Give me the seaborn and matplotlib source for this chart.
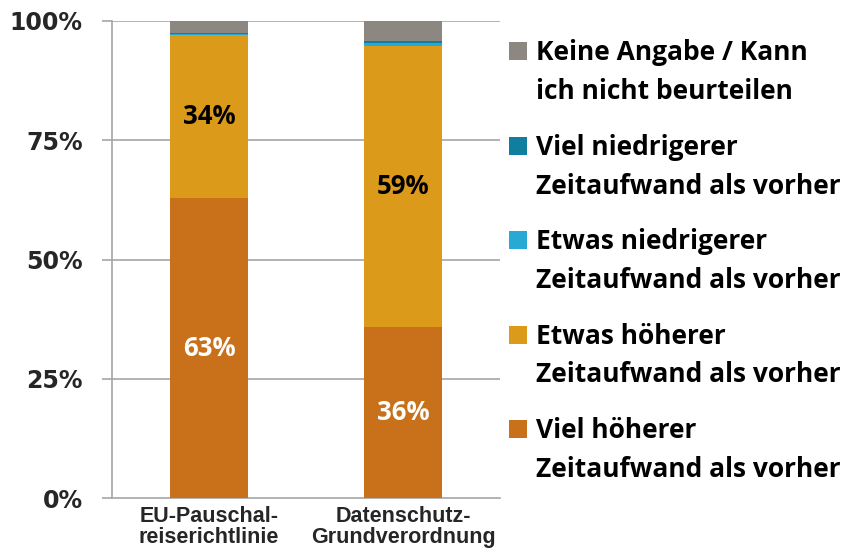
import matplotlib
matplotlib.use("Agg")
import matplotlib.pyplot as plt
import seaborn as sns
import pandas as pd
import numpy as np
from matplotlib.patches import Rectangle

# ---- data ----
categories = ["EU-Pauschal-\nreiserichtlinie", "Datenschutz-\nGrundverordnung"]
series_names = [
    "Viel höherer\nZeitaufwand als vorher",
    "Etwas höherer\nZeitaufwand als vorher",
    "Etwas niedrigerer\nZeitaufwand als vorher",
    "Viel niedrigerer\nZeitaufwand als vorher",
    "Keine Angabe / Kann\nich nicht beurteilen",
]
viel_hoeher = [62.8, 35.8]
etwas_hoeher = [34.3, 59.0]
etwas_niedriger = [0.1, 0.5]
viel_niedriger = [0.3, 0.5]
keine_angabe = [2.5, 4.2]
colors = ["#C8701A", "#DC9A1A", "#27A9D6", "#0F7E9F", "#8C8780"]
yticks = [0, 25, 50, 75, 100]
ytick_labels = ["0%", "25%", "50%", "75%", "100%"]

series_values = [viel_hoeher, etwas_hoeher, etwas_niedriger, viel_niedriger, keine_angabe]

W, H = 845, 553
fig = plt.figure(figsize=(W / 100, H / 100), dpi=100)
sns.set_style("white")
ax = fig.add_axes([112 / W, 1 - 498 / H, (500 - 112) / W, (498 - 21) / H])

cum = np.cumsum(np.array(series_values), axis=0)
# draw cumulative totals, largest first, so smaller stacks overlay
for k in range(len(series_values) - 1, -1, -1):
    df = pd.DataFrame({"cat": categories, "val": cum[k]})
    sns.barplot(data=df, x="cat", y="val", color=colors[k], width=0.4,
                linewidth=0, saturation=1, ax=ax, zorder=3, errorbar=None)

ax.set_xlim(-0.5, 1.5)
ax.set_ylim(0, 100)
ax.set_xlabel("")
ax.set_ylabel("")

grid_c = "#A5A5A5"
for y in yticks[1:]:
    ax.axhline(y, color=grid_c, lw=1.2, zorder=1)
for s in ["top", "right"]:
    ax.spines[s].set_visible(False)
ax.spines["left"].set_color(grid_c)
ax.spines["left"].set_linewidth(1.2)
ax.spines["bottom"].set_color(grid_c)
ax.spines["bottom"].set_linewidth(1.2)

ax.set_yticks(yticks)
ax.set_yticklabels(ytick_labels, fontfamily="DejaVu Sans", fontweight="bold", fontsize=17)
ax.tick_params(axis="y", length=7.2, width=1.2, color=grid_c, pad=14, left=True)
ax.tick_params(axis="x", length=0, pad=6)
ax.set_xticks([0, 1])
ax.set_xticklabels(categories, fontfamily="Liberation Sans", fontweight="bold",
                   fontsize=15.5, linespacing=1.0)

# data labels for the two big segments
label_colors = ["white", "black"]
for k in range(2):
    for i in range(len(categories)):
        v = series_values[k][i]
        bottom = cum[k][i] - v
        ax.text(i, bottom + v / 2, f"{round(v)}%", ha="center", va="center",
                fontfamily="Open Sans", fontweight="bold", fontsize=18.5,
                color=label_colors[k], zorder=5)

# legend (top to bottom: reversed series order)
order = [4, 3, 2, 1, 0]
sq_top0 = 42
step = 94.5
for j, k in enumerate(order):
    top = sq_top0 + j * step
    fig.patches.append(Rectangle((509 / W, 1 - (top + 18) / H), 18 / W, 18 / H,
                                 transform=fig.transFigure, color=colors[k], lw=0))
    lines = series_names[k].split("\n")
    for li, line in enumerate(lines):
        base = top + 18 + li * 39
        fig.text(536 / W, 1 - base / H, line, ha="left", va="baseline",
                 fontfamily="Open Sans", fontweight="bold", fontsize=19, color="black")

fig.savefig("out.png", dpi=100)
